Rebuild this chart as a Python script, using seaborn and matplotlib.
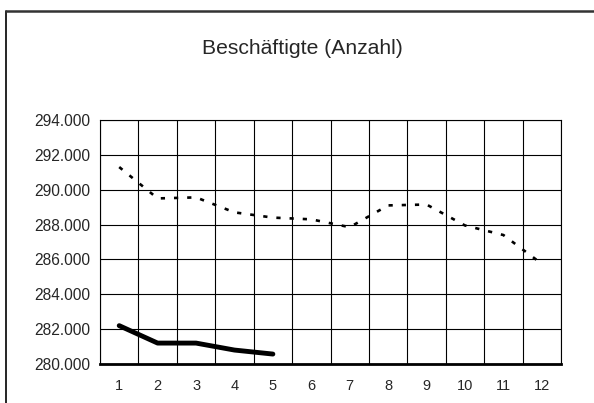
import numpy as np
import pandas as pd
import seaborn as sns
import matplotlib.pyplot as plt
from matplotlib.ticker import FuncFormatter, MultipleLocator
from matplotlib.lines import Line2D

# Monate und Werte (in Tausend)
months = list(range(1, 13))
prev_year = [291.3, 289.5, 289.56, 288.7, 288.4, 288.3, 287.85, 289.1, 289.15, 287.95, 287.4, 285.75]
cur_months = [1, 2, 3, 4, 5]
cur_year = [282.2, 281.2, 281.2, 280.8, 280.57]

sns.set_style("white")
plt.rcParams['font.family'] = ['Liberation Sans', 'DejaVu Sans']

fig = plt.figure(figsize=(5.94, 4.03), dpi=100)
ax = fig.add_axes([100 / 594, 1 - 364 / 403, 461 / 594, 244 / 403])

sns.lineplot(x=months, y=prev_year, ax=ax, color="black", linewidth=1.9,
             linestyle=(0, (1.6, 3.4)))
sns.lineplot(x=cur_months, y=cur_year, ax=ax, color="black", linewidth=3.5,
             solid_capstyle="round")

ax.set_xlim(0.5, 12.5)
ax.set_ylim(280, 294)
ax.yaxis.set_major_locator(MultipleLocator(2))
ax.yaxis.set_major_formatter(FuncFormatter(lambda v, p: f"{v:.3f}"))

# Gitter an den Kategoriegrenzen, Beschriftung in der Mitte
ax.set_xticks(np.arange(0.5, 13, 1))
ax.set_xticklabels([])
ax.set_xticks(months, minor=True)
ax.set_xticklabels([str(m) for m in months], minor=True)
ax.tick_params(axis="x", which="minor", length=0, pad=11, labelsize=10.5)
ax.tick_params(axis="x", which="major", length=4, width=0.8, color="black", direction="out")
ax.tick_params(axis="y", length=4, width=0.8, color="black", direction="out", labelsize=11.2, pad=3)
ax.grid(True, which="major", color="black", linewidth=0.8)

for s in ax.spines.values():
    s.set_color("black")
    s.set_linewidth(0.8)
ax.spines["bottom"].set_linewidth(2)

fig.text(302 / 594, 1 - 48 / 403, "Beschäftigte (Anzahl)", ha="center", va="center", fontsize=15.2)

# Rahmen (links und oben)
fig.add_artist(Line2D([6 / 594, 6 / 594], [0, 1 - 10.5 / 403], transform=fig.transFigure,
                      color="black", linewidth=1.2))
fig.add_artist(Line2D([6 / 594, 1], [1 - 10.5 / 403, 1 - 10.5 / 403], transform=fig.transFigure,
                      color="#333333", linewidth=1.8))

fig.savefig("out.png", dpi=100)
